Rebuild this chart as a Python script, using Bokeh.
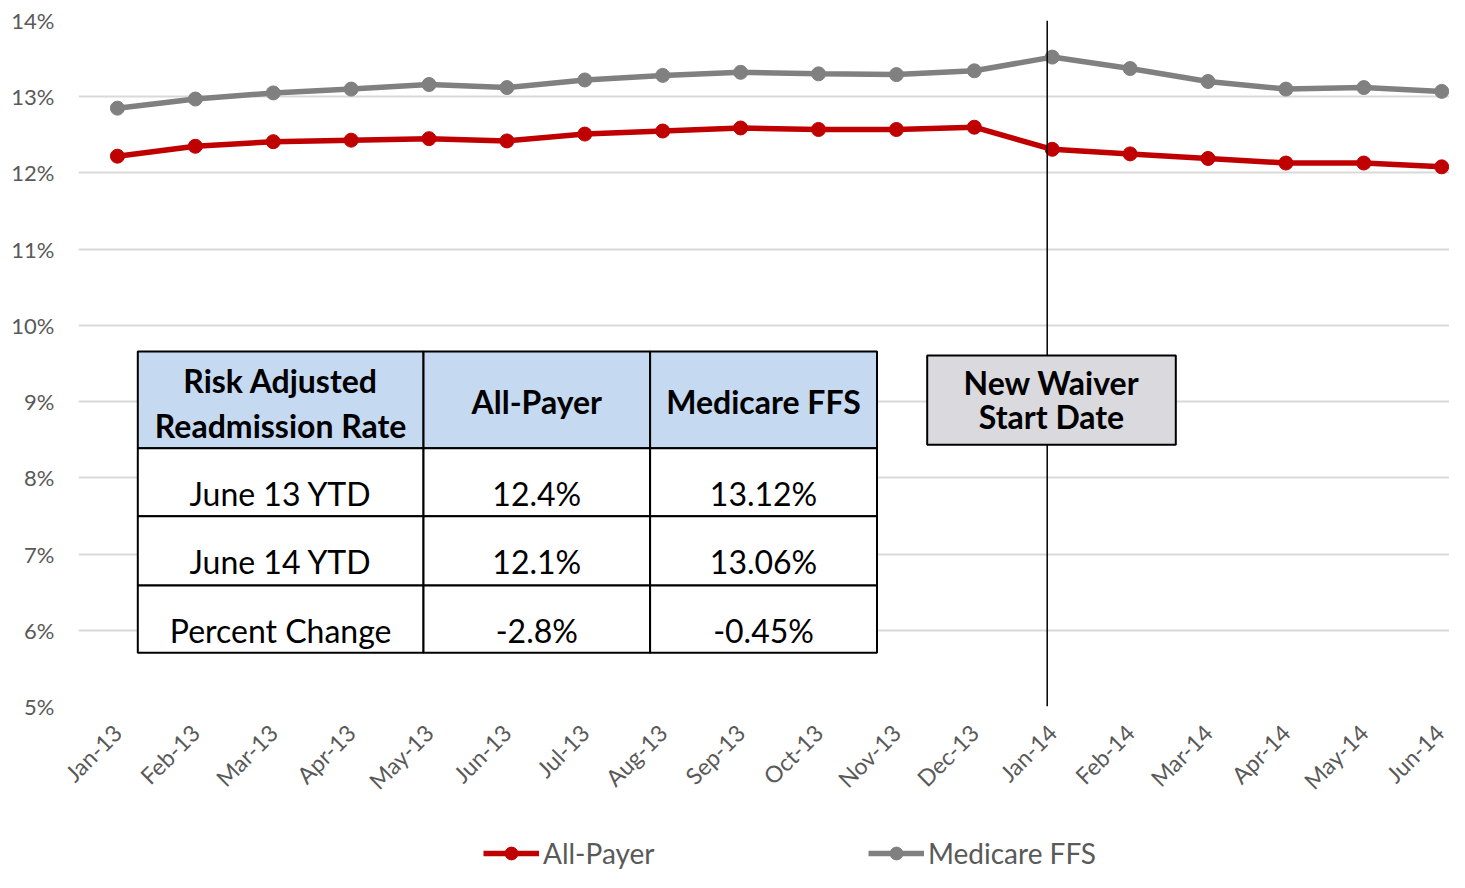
import math
from bokeh.plotting import figure
from bokeh.layouts import column
from bokeh.models import (Range1d, FixedTicker, PrintfTickFormatter, Span, BoxAnnotation,
                          Legend, LegendItem, Label)
from bokeh.embed import file_html
from bokeh.resources import INLINE

# ---------------- data ----------------
months = ["Jan-13", "Feb-13", "Mar-13", "Apr-13", "May-13", "Jun-13", "Jul-13", "Aug-13",
          "Sep-13", "Oct-13", "Nov-13", "Dec-13", "Jan-14", "Feb-14", "Mar-14", "Apr-14",
          "May-14", "Jun-14"]
all_payer = [12.22, 12.35, 12.41, 12.43, 12.45, 12.42, 12.51, 12.55, 12.59, 12.57, 12.57, 12.60,
             12.31, 12.25, 12.19, 12.13, 12.13, 12.08]
medicare_ffs = [12.85, 12.97, 13.05, 13.10, 13.16, 13.12, 13.22, 13.28, 13.32, 13.30, 13.29, 13.34,
                13.52, 13.37, 13.20, 13.10, 13.12, 13.07]
y_ticks = [5, 6, 7, 8, 9, 10, 11, 12, 13, 14]
series_names = ["All-Payer", "Medicare FFS"]

table_header_col1 = ["Risk Adjusted", "Readmission Rate"]
table_header = ["All-Payer", "Medicare FFS"]
table_rows = [["June 13 YTD", "12.4%", "13.12%"],
              ["June 14 YTD", "12.1%", "13.06%"],
              ["Percent Change", "-2.8%", "-0.45%"]]
waiver_text = ["New Waiver", "Start Date"]
waiver_month = "Jan-14"

# ---------------- layout / styles ----------------
RED = "#c00000"
GRAY = "#808080"
LABEL_GRAY = "#595959"
FONT = "Lato"

W = 1449
H_MAIN, H_LEG = 812, 60
FL, FT, FB = 78, 20, 706           # frame left / top / bottom (px)
X0, X1 = -0.5, 17.1
Y0, Y1 = 5, 14


def xd(px):
    return X0 + (px - FL) * (X1 - X0) / (W - FL)


def yd(py):
    return Y1 - (py - FT) * (Y1 - Y0) / (FB - FT)


x = list(range(len(months)))

p = figure(width=W, height=H_MAIN, x_range=Range1d(X0, X1), y_range=Range1d(Y0, Y1),
           output_backend="svg", toolbar_location=None,
           min_border_left=FL, min_border_right=0, min_border_top=FT,
           min_border_bottom=H_MAIN - FB)
p.outline_line_color = None
p.background_fill_color = "white"
p.border_fill_color = "white"

# axes
p.xaxis.ticker = FixedTicker(ticks=x)
p.xaxis.major_label_overrides = {i: m for i, m in enumerate(months)}
p.xaxis.major_label_orientation = math.pi / 4
p.xaxis.axis_line_color = None
p.xaxis.major_tick_line_color = None
p.xaxis.minor_tick_line_color = None
p.xaxis.major_tick_out = 0
p.xaxis.major_label_text_font = FONT
p.xaxis.major_label_text_font_size = "23px"
p.xaxis.major_label_text_color = LABEL_GRAY
p.xaxis.major_label_standoff = 22

p.yaxis.ticker = FixedTicker(ticks=y_ticks)
p.yaxis.formatter = PrintfTickFormatter(format="%d%%")
p.yaxis.axis_line_color = None
p.yaxis.major_tick_line_color = None
p.yaxis.minor_tick_line_color = None
p.yaxis.major_tick_out = 0
p.yaxis.major_label_text_font = FONT
p.yaxis.major_label_text_font_size = "22px"
p.yaxis.major_label_text_color = LABEL_GRAY
p.yaxis.major_label_standoff = 24

p.xgrid.visible = False
p.ygrid.ticker = FixedTicker(ticks=y_ticks)
p.ygrid.grid_line_color = "#d9d9d9"
p.ygrid.grid_line_width = 2

# series
p.line(x, all_payer, line_color=RED, line_width=5.5)
p.scatter(x, all_payer, size=14, fill_color=RED, line_color=RED)
p.line(x, medicare_ffs, line_color=GRAY, line_width=5.5)
p.scatter(x, medicare_ffs, size=14, fill_color=GRAY, line_color=GRAY)

# waiver start line + box
p.add_layout(Span(location=xd(1046.7), dimension="height",
                  line_color="black", line_width=1.5))
p.add_layout(BoxAnnotation(left=xd(926.7), right=xd(1175.3), top=yd(355), bottom=yd(444.3),
                           fill_color="#d9d9de", fill_alpha=1.0,
                           line_color="black", line_width=2, line_alpha=1.0))
for txt, py in zip(waiver_text, [383.7, 418.0]):
    p.add_layout(Label(x=xd(1051), y=yd(py - 2), text=txt, text_align="center",
                       text_baseline="alphabetic", text_font=FONT, text_font_style="bold",
                       text_font_size="32px", text_color="black"))

# table
col_px = [137.3, 423, 649.6, 876.5]
row_px = [351, 447.7, 515.7, 585, 652.3]
col_edges = [xd(v) for v in col_px]
row_edges = [yd(v) for v in row_px]
col_centers = [(col_edges[i] + col_edges[i + 1]) / 2 for i in range(3)]
for ri in range(4):
    for ci in range(3):
        fill = "#c5d9f1" if ri == 0 else "white"
        p.add_layout(BoxAnnotation(left=col_edges[ci], right=col_edges[ci + 1],
                                   top=row_edges[ri], bottom=row_edges[ri + 1],
                                   fill_color=fill, fill_alpha=1.0,
                                   line_color="black", line_width=2, line_alpha=1.0))

for txt, py in zip(table_header_col1, [381.7, 427.3]):
    p.add_layout(Label(x=col_centers[0], y=yd(py - 2), text=txt, text_align="center",
                       text_baseline="alphabetic", text_font=FONT, text_font_style="bold",
                       text_font_size="32px", text_color="black"))
for ci, txt in enumerate(table_header):
    p.add_layout(Label(x=col_centers[ci + 1], y=yd(402.7 - 2), text=txt, text_align="center",
                       text_baseline="alphabetic", text_font=FONT, text_font_style="bold",
                       text_font_size="32px", text_color="black"))
row_text_px = [494.8, 562.5, 631.7]
for ri, row in enumerate(table_rows):
    for ci, txt in enumerate(row):
        p.add_layout(Label(x=col_centers[ci], y=yd(row_text_px[ri] - 2), text=txt,
                           text_align="center", text_baseline="alphabetic", text_font=FONT,
                           text_font_size="32px", text_color="black"))

# ---------------- legend strip (same series, drawn off-range so only the legend shows) -------
q = figure(width=W, height=H_LEG, x_range=Range1d(0, W), y_range=Range1d(1000, 1001),
           output_backend="svg", toolbar_location=None,
           x_axis_location=None, y_axis_location=None,
           min_border_left=0, min_border_right=0, min_border_top=0, min_border_bottom=0)
q.outline_line_color = None
q.grid.visible = False
q.background_fill_color = "white"
q.border_fill_color = "white"
la = q.line(x, all_payer, line_color=RED, line_width=5.5)
sa = q.scatter(x, all_payer, size=14, fill_color=RED, line_color=RED)
lm = q.line(x, medicare_ffs, line_color=GRAY, line_width=5.5)
sm = q.scatter(x, medicare_ffs, size=14, fill_color=GRAY, line_color=GRAY)

legend = Legend(items=[LegendItem(label=series_names[0], renderers=[la, sa]),
                       LegendItem(label=series_names[1], renderers=[lm, sm])],
                orientation="horizontal", location=(483 - FL, 2), margin=0, padding=0,
                spacing=205, glyph_width=56, glyph_height=32, label_height=32,
                label_width=120, label_standoff=4,
                label_text_font=FONT, label_text_font_size="28px", label_text_color=LABEL_GRAY,
                background_fill_alpha=0, border_line_alpha=0)
q.add_layout(legend, "center")

layout = column(p, q, spacing=0)
open("out.html", "w").write(file_html(layout, INLINE))
